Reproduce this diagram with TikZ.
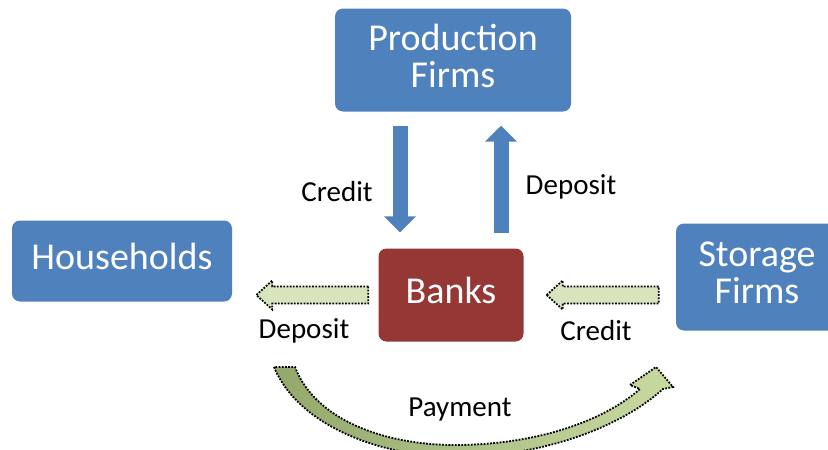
\documentclass[tikz,border=0pt]{standalone}
\usepackage{fontspec}
\setmainfont{Carlito}
\usepackage{xcolor}
\usetikzlibrary{arrows.meta, positioning, calc}
\definecolor{officeBlue}{RGB}{79, 129, 189}
\definecolor{officeRed}{RGB}{149, 55, 53}
\definecolor{officeGreen}{RGB}{215, 228, 189}
\definecolor{olivePale}{RGB}{200, 218, 160}
\definecolor{oliveDark}{RGB}{148, 168, 108}

\begin{document}
\begin{tikzpicture}[x=1pt, y=-1pt]
    \tikzstyle{box} = [rectangle, rounded corners=8pt, align=center, text=white, inner sep=0pt, text depth=9pt, font=\fontsize{38}{37}\selectfont]
    \tikzstyle{flowlabel} = [inner sep=0pt, font=\fontsize{29}{30}\selectfont]
    \tikzstyle{bluearrow} = [-{Triangle[width=31pt, length=16pt]}, line width=15pt, officeBlue]
    \tikzstyle{dotline} = [draw=black, line width=1.8pt, dash pattern=on 1.8pt off 1.4pt]
    \tikzstyle{greenarrow} = [dotline, fill=officeGreen]

    \useasboundingbox (0,0) rectangle (828,450);
    \clip (0,0) rectangle (828,450);

    % sectors
    \node[box, fill=officeBlue, minimum width=236pt, minimum height=103pt] (prod) at (453,60) {Production\\Firms};
    \node[box, fill=officeBlue, minimum width=220pt, minimum height=81pt] (house) at (122,261) {Households};
    \node[box, fill=officeRed, minimum width=145pt, minimum height=93pt] (bank) at (451,295) {Banks};
    \node[box, fill=officeBlue, minimum width=162pt, minimum height=107pt] (store) at (757,277) {Storage\\Firms};

    % credit and deposit between banks and production
    \coordinate (credtop) at ([xshift=-53pt]prod.south);
    \coordinate (credbot) at (credtop |- bank.north);
    \coordinate (deptop) at ([xshift=48pt]prod.south);
    \coordinate (depbot) at (deptop |- bank.north);
    \draw[bluearrow, shorten <=14pt, shorten >=16pt] (credtop) -- (credbot);
    \draw[bluearrow, shorten <=15pt, shorten >=14pt] (depbot) -- (deptop);
    \node[flowlabel] (credprod) at (337,192) {Credit};
    \node[flowlabel] (depprod) at (571,187) {Deposit};

    % flows towards the left
    \draw[greenarrow] ([xshift=-10pt]bank.west) ++(0,-8.5) -- ++(-96,0) -- ++(0,-6) -- ++(-16,14.5)
        -- ++(16,14.5) -- ++(0,-6) -- ++(96,0) -- cycle;
    \draw[greenarrow] ([xshift=23pt]bank.east) -- ++(16,-14.5) -- ++(0,6) -- ++(96,0) -- ++(0,17)
        -- ++(-96,0) -- ++(0,6) -- cycle;
    \node[flowlabel] (dephouse) at (304,331) {Deposit};
    \node[flowlabel] (credstore) at (596,331) {Credit};

    % payment from households to storage firms
    \path[dotline, left color=oliveDark, right color=olivePale]
        (274,367) .. controls (300,430) and (390,457) .. (455,457)
        .. controls (540,457) and (620,428) .. (663,389)
        -- (673,387) -- (656,367) -- (630,385) -- (640,389)
        .. controls (600,424) and (530,445) .. (455,445)
        .. controls (385,445) and (315,420) .. (295,367) -- cycle;
    \node[flowlabel] (pay) at (460,410) {Payment};
\end{tikzpicture}
\end{document}
